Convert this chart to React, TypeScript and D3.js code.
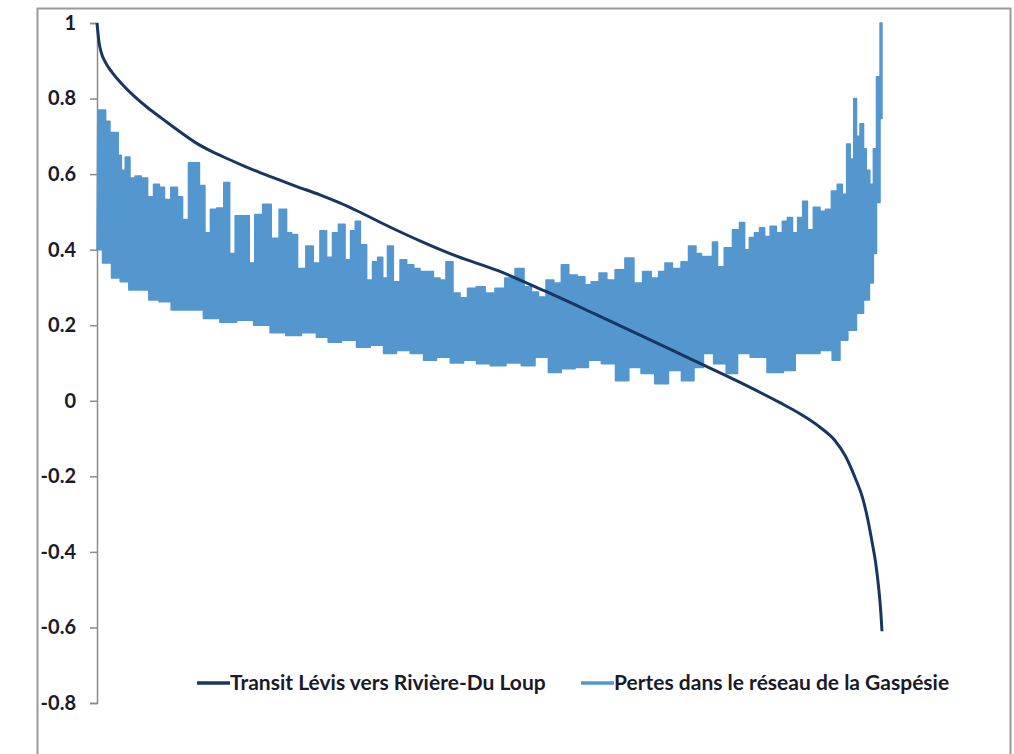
import React, { useEffect, useRef } from "react";
import * as d3 from "d3";

// Rang des heures (0-100 %) et valeurs
const rangTransit = [0, 0.25, 0.5, 1.15, 1.9, 3.2, 4.8, 6.5, 8.3, 10.3, 12.5, 14.6, 16.7, 18.9, 21.0, 23.3, 25.2, 28.4, 31.0, 33.1, 37.3, 41.5, 45.9, 51.0, 57.1, 63.4, 69.8, 76.2, 80.6, 84.5, 87.0, 89.6, 92.1, 94.0, 95.3, 96.6, 97.5, 98.2, 98.7, 99.2, 99.6, 99.85, 100];
const transit = [1.0, 0.95, 0.925, 0.893, 0.87, 0.838, 0.805, 0.775, 0.747, 0.716, 0.684, 0.66, 0.64, 0.62, 0.602, 0.584, 0.569, 0.545, 0.523, 0.503, 0.46, 0.42, 0.382, 0.345, 0.29, 0.23, 0.168, 0.105, 0.062, 0.022, -0.005, -0.035, -0.07, -0.105, -0.145, -0.205, -0.255, -0.315, -0.37, -0.43, -0.5, -0.56, -0.61];

// Pertes : pointes hautes
const rangHaut = [0.1, 0.8, 1.4, 1.9, 2.5, 2.9, 3.3, 3.9, 4.5, 5.2, 6.1, 6.8, 7.6, 8.3, 8.9, 9.9, 10.6, 11.2, 12.1, 12.7, 13.4, 14.1, 14.8, 15.7, 16.6, 17.2, 18.0, 19.1, 19.7, 20.5, 21.7, 22.7, 23.7, 24.6, 25.0, 26.1, 27.1, 28.0, 28.8, 29.7, 30.3, 31.2, 32.0, 32.6, 33.2, 33.9, 34.8, 35.4, 36.1, 36.7, 37.3, 38.2, 39.0, 39.9, 40.8, 41.5, 42.4, 43.3, 44.1, 44.8, 45.9, 46.6, 47.8, 48.8, 50.1, 51.3, 52.6, 53.9, 54.9, 55.8, 56.7, 57.7, 58.7, 59.6, 60.6, 61.8, 62.5, 63.4, 64.5, 65.4, 66.6, 67.9, 68.9, 70.1, 71.1, 72.0, 72.7, 73.9, 74.9, 75.8, 76.8, 77.2, 78.1, 78.7, 79.4, 80.4, 81.5, 82.2, 82.8, 83.4, 84.1, 84.7, 85.4, 86.1, 87.0, 87.6, 88.3, 88.9, 89.6, 90.2, 90.8, 91.7, 92.5, 93.1, 94.0, 94.6, 95.3, 95.7, 96.2, 96.6, 96.9, 97.5, 97.8, 98.2, 98.7, 99.1, 99.5, 100];
const pertesHaut = [0.77, 0.77, 0.74, 0.71, 0.71, 0.65, 0.61, 0.645, 0.59, 0.595, 0.59, 0.54, 0.573, 0.565, 0.533, 0.565, 0.54, 0.48, 0.63, 0.63, 0.57, 0.445, 0.507, 0.51, 0.578, 0.39, 0.49, 0.49, 0.365, 0.493, 0.52, 0.43, 0.507, 0.445, 0.44, 0.35, 0.41, 0.365, 0.45, 0.38, 0.445, 0.467, 0.373, 0.45, 0.475, 0.413, 0.32, 0.368, 0.38, 0.325, 0.41, 0.315, 0.373, 0.36, 0.35, 0.342, 0.342, 0.325, 0.32, 0.368, 0.285, 0.273, 0.298, 0.302, 0.285, 0.298, 0.325, 0.35, 0.302, 0.288, 0.275, 0.32, 0.312, 0.36, 0.333, 0.328, 0.307, 0.315, 0.338, 0.32, 0.347, 0.378, 0.312, 0.342, 0.325, 0.342, 0.365, 0.35, 0.368, 0.41, 0.39, 0.382, 0.382, 0.42, 0.355, 0.405, 0.453, 0.472, 0.4, 0.432, 0.445, 0.458, 0.435, 0.462, 0.445, 0.475, 0.485, 0.445, 0.485, 0.528, 0.453, 0.512, 0.502, 0.507, 0.555, 0.573, 0.547, 0.68, 0.64, 0.8, 0.7, 0.733, 0.667, 0.61, 0.573, 0.667, 0.858, 1.0];

// Pertes : creux bas
const rangBas = [0, 1.4, 2.3, 3.6, 4.5, 6.1, 7.1, 8.7, 10.2, 12.5, 14.6, 16.7, 18.9, 21.0, 23.1, 25.0, 27.1, 28.8, 30.1, 32.2, 33.9, 35.7, 37.3, 39.0, 40.8, 42.4, 44.1, 45.9, 47.5, 49.2, 51.0, 53.2, 54.9, 56.7, 58.3, 60.0, 61.8, 63.4, 65.1, 67.0, 68.5, 70.1, 72.0, 73.6, 75.3, 76.8, 77.7, 79.4, 80.9, 82.3, 84.1, 86.6, 88.3, 89.6, 91.2, 93.0, 94.3, 95.0, 96.3, 97.2, 98.1, 98.7, 99.1, 99.5, 100];
const pertesBas = [0.4, 0.365, 0.325, 0.315, 0.293, 0.293, 0.267, 0.262, 0.24, 0.24, 0.218, 0.208, 0.213, 0.2, 0.18, 0.173, 0.18, 0.168, 0.155, 0.16, 0.142, 0.147, 0.125, 0.133, 0.125, 0.107, 0.115, 0.1, 0.107, 0.098, 0.093, 0.1, 0.093, 0.115, 0.075, 0.085, 0.088, 0.107, 0.098, 0.053, 0.088, 0.072, 0.045, 0.08, 0.053, 0.088, 0.125, 0.098, 0.072, 0.125, 0.115, 0.075, 0.08, 0.125, 0.125, 0.133, 0.107, 0.16, 0.187, 0.232, 0.267, 0.312, 0.39, 0.525, 0.747];

const yTicks = [1, 0.8, 0.6, 0.4, 0.2, 0, -0.2, -0.4, -0.6, -0.8];
const yTickLabels = ["1", "0.8", "0.6", "0.4", "0.2", "0", "-0.2", "-0.4", "-0.6", "-0.8"];

const seriesNames = ["Transit Lévis vers Rivière-Du Loup", "Pertes dans le réseau de la Gaspésie"];
const seriesColors = ["#173761", "#5497ce"];

const FONT = "Lato, 'Open Sans', sans-serif";

export default function App() {
  const svgRef = useRef<SVGSVGElement>(null);

  useEffect(() => {
    const svg = d3.select(svgRef.current);
    svg.selectAll("*").remove();

    const x = d3.scaleLinear().domain([0, 100]).range([97, 882]);
    const y = d3.scaleLinear().domain([-0.8, 1]).range([703, 23]);

    // outer frame (cut off at the bottom)
    svg
      .append("rect")
      .attr("x", 37.5)
      .attr("y", 8.5)
      .attr("width", 973)
      .attr("height", 800)
      .attr("fill", "#fff")
      .attr("stroke", "#9a9a9a")
      .attr("stroke-width", 2);

    // y axis
    svg
      .append("g")
      .attr("transform", "translate(97,0)")
      .call(d3.axisLeft(y).tickValues(yTicks).tickSize(7).tickFormat((d, i) => yTickLabels[i]))
      .call((g) => g.select(".domain").attr("stroke", "#8a8a8a").attr("stroke-width", 1.5))
      .call((g) => g.selectAll(".tick line").attr("stroke", "#8a8a8a").attr("stroke-width", 1.5))
      .call((g) =>
        g
          .selectAll(".tick text")
          .attr("x", -21)
          .attr("fill", "#1a1a2a")
          .style("font-family", FONT)
          .style("font-weight", "bold")
          .style("font-size", "20px")
      );

    // Pertes: band between the low and high envelopes, stepped like the dense hourly line
    const topPts: [number, number][] = rangHaut.map((r, i) => [x(r), y(pertesHaut[i])]);
    const botPts = rangBas.map((r, i) => [x(r), y(pertesBas[i])] as [number, number]).reverse();
    const topPath = d3.line().curve(d3.curveStep)(topPts) || "";
    const botPath = (d3.line().curve(d3.curveStep)(botPts) || "").replace(/^M/, "L");
    svg
      .append("path")
      .attr("d", topPath + botPath + "Z")
      .attr("fill", seriesColors[1])
      .attr("stroke", seriesColors[1])
      .attr("stroke-width", 1.5)
      .attr("stroke-linejoin", "round");

    // Transit line
    const line = d3
      .line<number>()
      .x((d, i) => x(rangTransit[i]))
      .y((d) => y(d))
      .curve(d3.curveMonotoneX);
    svg
      .append("path")
      .datum(transit)
      .attr("d", line)
      .attr("fill", "none")
      .attr("stroke", seriesColors[0])
      .attr("stroke-width", 3);

    // legend
    const legendX = [197, 581];
    const legend = svg.append("g");
    seriesNames.forEach((name, i) => {
      legend
        .append("line")
        .attr("x1", legendX[i])
        .attr("x2", legendX[i] + 33)
        .attr("y1", 683)
        .attr("y2", 683)
        .attr("stroke", seriesColors[i])
        .attr("stroke-width", 3.5);
      legend
        .append("text")
        .attr("x", legendX[i] + 33)
        .attr("y", 690)
        .attr("fill", "#1a1a2a")
        .style("font-family", FONT)
        .style("font-weight", "bold")
        .style("font-size", "21px")
        .text(name);
    });
  }, []);

  return (
    <svg
      ref={svgRef}
      width={1014}
      height={754}
      style={{ position: "absolute", left: 0, top: 0, display: "block", background: "#fff" }}
    />
  );
}
